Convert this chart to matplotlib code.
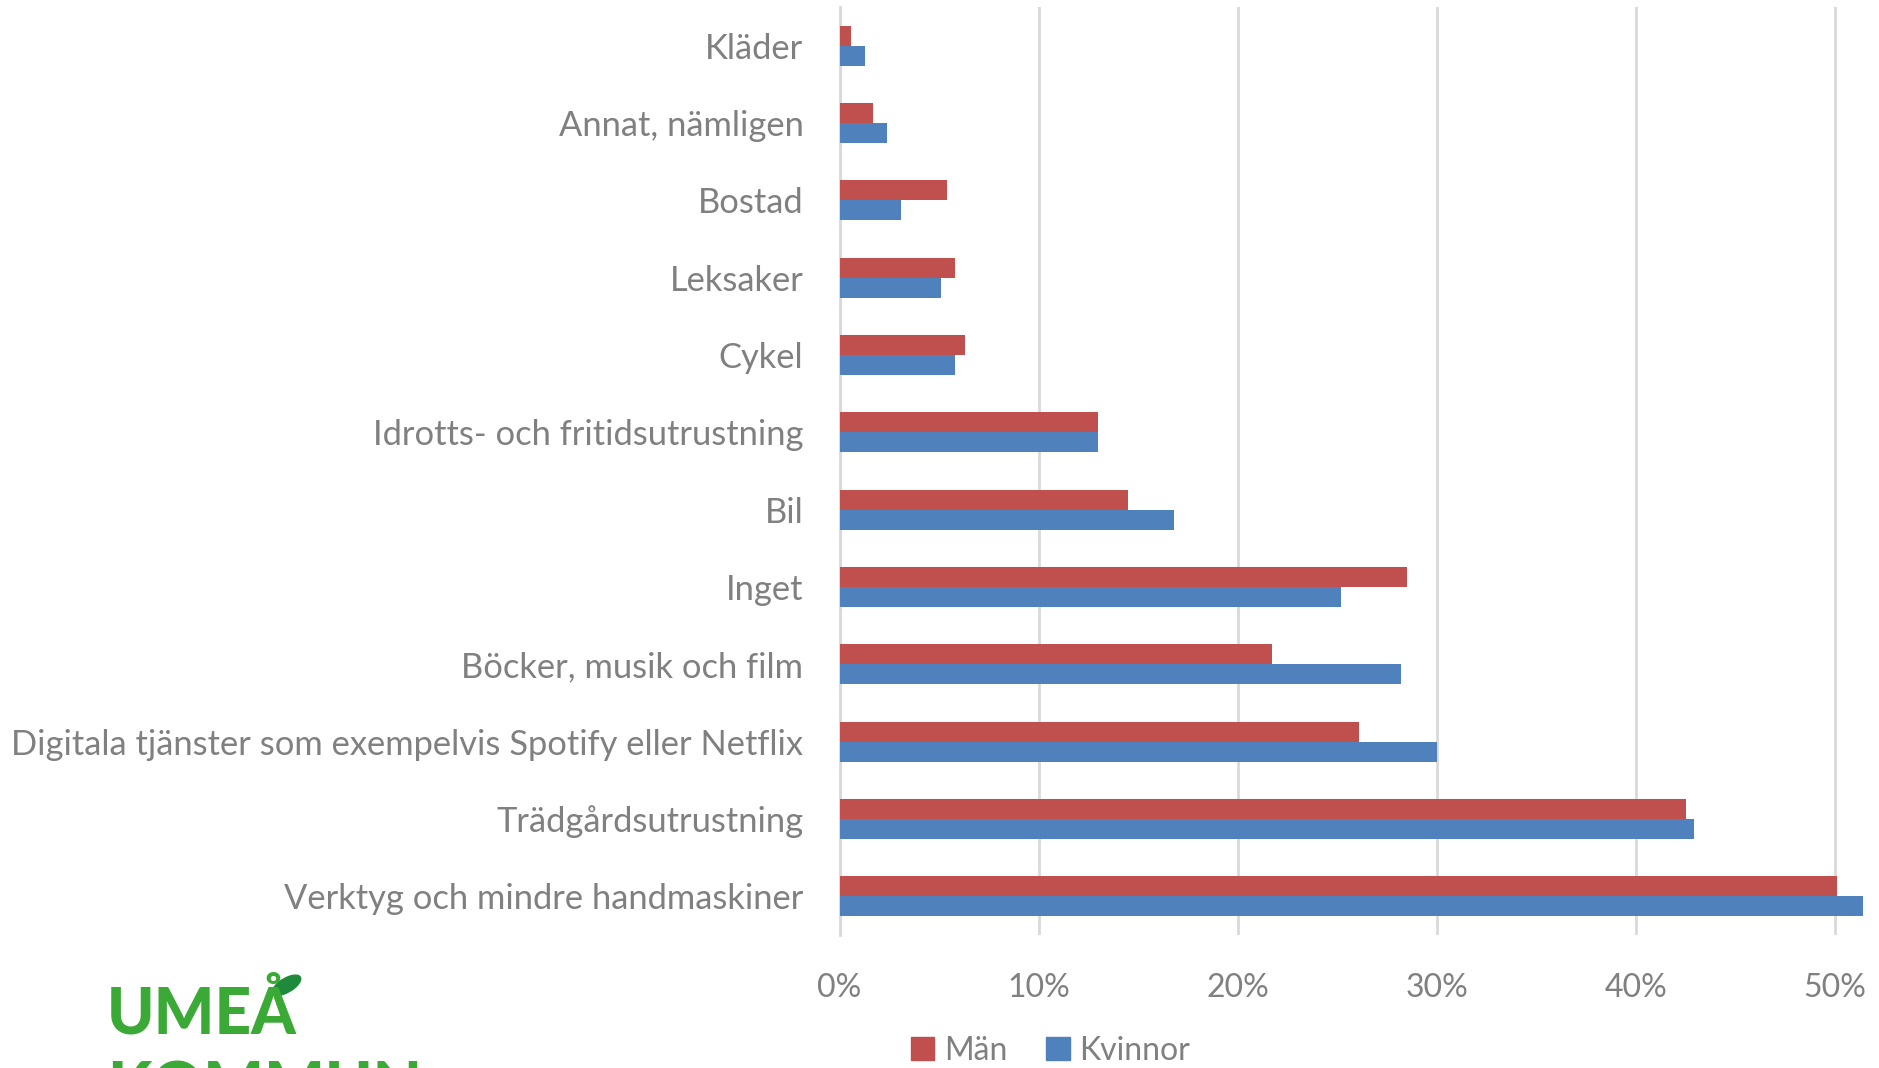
import numpy as np
import matplotlib
matplotlib.use("Agg")
import matplotlib.pyplot as plt
from matplotlib.patches import Patch, Ellipse

# categories, top to bottom
kategorier = ['Kläder', 'Annat, nämligen', 'Bostad', 'Leksaker', 'Cykel',
              'Idrotts- och fritidsutrustning', 'Bil', 'Inget',
              'Böcker, musik och film',
              'Digitala tjänster som exempelvis Spotify eller Netflix',
              'Trädgårdsutrustning', 'Verktyg och mindre handmaskiner']
man = [0.6, 1.7, 5.4, 5.8, 6.3, 13.0, 14.5, 28.5, 21.7, 26.1, 42.5, 50.1]
kvinnor = [1.3, 2.4, 3.1, 5.1, 5.8, 13.0, 16.8, 25.2, 28.2, 30.0, 42.9, 51.4]
xticks = [0, 10, 20, 30, 40, 50]
xticklabels = ['0%', '10%', '20%', '30%', '40%', '50%']

plt.rcParams['font.family'] = ['Lato', 'DejaVu Sans']
grey = '#808080'
red = '#C0504D'
blue = '#4F81BD'

fig = plt.figure(figsize=(18.79, 10.68), dpi=100)
ax = fig.add_axes([0.4468, 0.1245, 1 - 0.4468, 0.9934 - 0.1245])

y = np.arange(len(kategorier))
h = 0.26
ax.barh(y - h / 2, man, height=h, color=red, label='Män', zorder=3)
ax.barh(y + h / 2, kvinnor, height=h, color=blue, label='Kvinnor', zorder=3)

ax.set_ylim(len(kategorier) - 0.5, -0.5)
ax.set_xlim(0, 52.2)
ax.set_yticks(y)
ax.set_yticklabels(kategorier, fontsize=24.8, color=grey)
ax.set_xticks(xticks)
ax.set_xticklabels(xticklabels, fontsize=23, color=grey)
ax.tick_params(axis='y', length=0, pad=26)
ax.tick_params(axis='x', length=0, pad=27)
ax.grid(axis='x', color='#D9D9D9', linewidth=2, zorder=0)
for s in ['top', 'right', 'bottom']:
    ax.spines[s].set_visible(False)
ax.spines['left'].set_color('#D9D9D9')
ax.spines['left'].set_linewidth(2)

handles = [Patch(color=red), Patch(color=blue)]
fig.legend(handles, ['Män', 'Kvinnor'], loc='center', bbox_to_anchor=(0.559, 0.016),
           ncol=2, frameon=False, fontsize=23, labelcolor=grey,
           handlelength=0.75, handleheight=0.75, handletextpad=0.3, columnspacing=1.2)

# logo (KOMMUN is cut by the lower edge, as in the original)
fig.text(0.057, 0.022, 'UMEÅ', fontsize=46, fontweight='black', color='#3AA935',
         ha='left', va='bottom')
fig.text(0.057, -0.048, 'KOMMUN', fontsize=46, fontweight='black', color='#3AA935',
         ha='left', va='bottom')
leaf = Ellipse((0.1525, 0.0775), 0.010, 0.022, angle=-35, color='#1F8A3B',
               transform=fig.transFigure)
fig.patches.append(leaf)

fig.savefig('out.png', dpi=100)
